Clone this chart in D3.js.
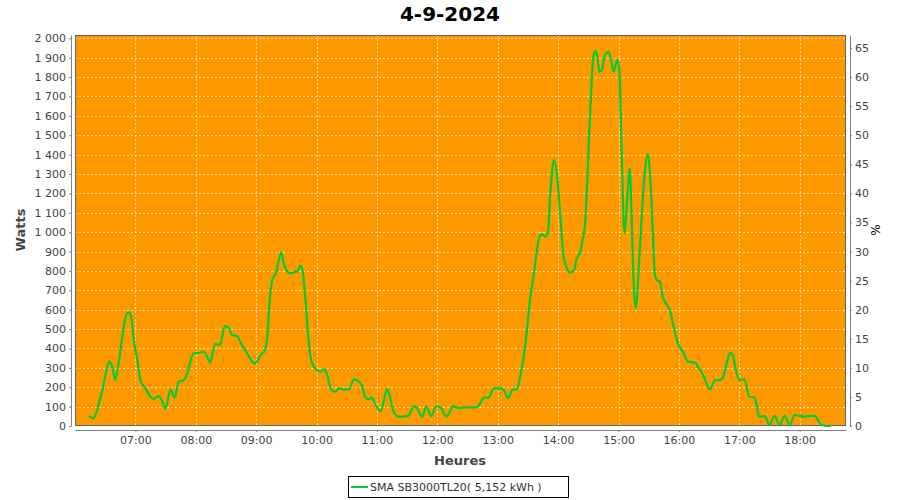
<!DOCTYPE html>
<html><head><meta charset="utf-8">
<script src="https://cdn.jsdelivr.net/npm/d3@7"></script>
<style>body{margin:0;background:#fff}svg{display:block}text{font-family:"DejaVu Sans",sans-serif}</style>
</head><body>
<svg id="c" width="900" height="500"></svg>
<script>
const title = "4-9-2024";
const seriesName = "SMA SB3000TL20( 5,152 kWh )";
const times = ["06:14","06:18","06:21","06:25","06:28","06:31","06:34","06:37","06:40","06:43","06:47","06:50","06:53","06:56","06:58","07:02","07:05","07:10","07:15","07:18","07:23","07:26","07:30","07:35","07:39","07:43","07:48","07:51","07:55","07:58","08:04","08:08","08:11","08:14","08:16","08:19","08:24","08:29","08:33","08:36","08:41","08:45","08:49","08:54","08:58","09:02","09:05","09:08","09:11","09:14","09:16","09:20","09:22","09:25","09:27","09:31","09:34","09:39","09:41","09:44","09:46","09:49","09:52","09:55","10:00","10:04","10:08","10:10","10:15","10:19","10:22","10:27","10:32","10:37","10:40","10:45","10:48","10:52","10:55","10:59","11:04","11:07","11:10","11:12","11:16","11:21","11:26","11:31","11:37","11:40","11:45","11:49","11:54","11:59","12:04","12:09","12:16","12:21","12:27","12:34","12:39","12:43","12:46","12:51","12:56","13:04","13:07","13:10","13:15","13:19","13:22","13:25","13:29","13:32","13:35","13:39","13:41","13:44","13:47","13:50","13:52","13:55","13:56","13:59","14:02","14:05","14:08","14:12","14:16","14:18","14:22","14:24","14:27","14:29","14:31","14:33","14:35","14:37","14:39","14:41","14:44","14:46","14:50","14:53","14:55","14:59","15:01","15:03","15:06","15:08","15:11","15:13","15:15","15:17","15:20","15:23","15:26","15:29","15:31","15:34","15:36","15:38","15:41","15:44","15:48","15:51","15:54","15:59","16:04","16:09","16:16","16:19","16:24","16:31","16:36","16:41","16:44","16:47","16:51","16:54","16:57","17:00","17:05","17:10","17:15","17:20","17:25","17:30","17:35","17:40","17:45","17:50","17:55","18:00","18:05","18:10","18:15","18:18","18:22","18:27","18:31"];
const watts = [53,40,65,143,203,280,332,306,237,315,460,555,586,564,460,340,237,194,151,139,155,134,91,189,146,228,237,263,340,375,378,383,361,327,357,423,418,516,504,469,464,426,392,349,323,340,371,383,460,684,753,796,847,894,847,796,787,796,796,827,804,650,444,332,289,280,294,272,186,177,194,189,189,241,237,210,151,138,146,103,77,134,191,169,82,48,48,52,103,91,48,100,52,103,91,48,103,91,96,96,96,120,146,146,194,194,177,143,189,189,246,332,495,650,753,908,968,990,976,1002,1182,1355,1372,1286,1097,891,822,791,805,856,899,951,1062,1269,1526,1750,1905,1935,1905,1827,1845,1905,1930,1879,1827,1891,1819,1440,994,1114,1329,1079,736,607,805,1079,1303,1403,1320,1011,787,753,744,667,624,598,530,426,383,332,328,306,263,189,237,237,254,315,378,357,280,237,241,151,148,48,52,5,52,5,52,5,57,52,48,52,52,31,5,0,2];
const hourTicks = ["07:00","08:00","09:00","10:00","11:00","12:00","13:00","14:00","15:00","16:00","17:00","18:00"];
const wattTicks = d3.range(0, 2001, 100);
const pctTicks = d3.range(0, 66, 5);
const xDomain = ["06:00","18:46"];
const wattMax = 2017;
const ratedPower = 3000;

const parse = d3.timeParse("%H:%M");
const data = times.map((t,i)=>({t:parse(t), w:watts[i]}));

const svg = d3.select("#c");
const L=75, R=846, T=35, B=426;
const x = d3.scaleTime().domain(xDomain.map(parse)).range([L,R]);
const y = d3.scaleLinear().domain([0,wattMax]).range([B,T]);
const yp = d3.scaleLinear().domain([0,wattMax/ratedPower*100]).range([B,T]);

svg.append("rect").attr("x",L).attr("y",T).attr("width",R-L).attr("height",B-T).attr("fill","#ff9900");

const grid = svg.append("g").attr("stroke","#fff").attr("stroke-opacity",0.75).attr("stroke-width",0.8).attr("stroke-dasharray","2,2");
grid.selectAll("line.h").data(wattTicks).join("line").attr("x1",L).attr("x2",R).attr("y1",d=>Math.round(y(d))+0.5).attr("y2",d=>Math.round(y(d))+0.5);
grid.selectAll("line.v").data(hourTicks.map(parse)).join("line").attr("y1",T).attr("y2",B).attr("x1",d=>Math.round(x(d))+0.5).attr("x2",d=>Math.round(x(d))+0.5);

svg.append("rect").attr("x",L+0.5).attr("y",T+0.5).attr("width",R-L-1).attr("height",B-T-1).attr("fill","none").attr("stroke","#666").attr("stroke-width",1);

const line = d3.line().x(d=>x(d.t)).y(d=>y(d.w)).curve(d3.curveMonotoneX);
svg.append("path").datum(data).attr("d",line).attr("fill","none").attr("stroke","#00cc33").attr("stroke-width",2.2).attr("stroke-linejoin","round");

function styleAxis(g){
  g.select(".domain").attr("stroke","#808080");
  g.selectAll(".tick line").attr("stroke","#808080");
  g.selectAll(".tick text").attr("fill","#444").attr("font-size","11px").attr("font-family","DejaVu Sans, sans-serif");
}
const fmt = d=>d3.format(",")(d).replace(/,/g," ");
const ya = svg.append("g").attr("transform",`translate(${L-4},0)`).call(d3.axisLeft(y).tickValues(wattTicks).tickFormat(fmt).tickSizeInner(2).tickSizeOuter(0).tickPadding(3));
styleAxis(ya);
const yb = svg.append("g").attr("transform",`translate(${R+4},0)`).call(d3.axisRight(yp).tickValues(pctTicks).tickSizeInner(2).tickSizeOuter(0).tickPadding(3));
styleAxis(yb);
const xa = svg.append("g").attr("transform",`translate(0,${B+4})`).call(d3.axisBottom(x).tickValues(hourTicks.map(parse)).tickFormat(d3.timeFormat("%H:%M")).tickSizeInner(2).tickSizeOuter(0).tickPadding(4));
styleAxis(xa);

svg.append("text").attr("x",450).attr("y",21).attr("text-anchor","middle").attr("font-size","20px").attr("font-weight","bold").attr("fill","#000").text(title);
svg.append("text").attr("transform","translate(25,230) rotate(-90)").attr("text-anchor","middle").attr("font-size","13px").attr("font-weight","bold").attr("fill","#444").text("Watts");
svg.append("text").attr("x",460).attr("y",465).attr("text-anchor","middle").attr("font-size","13px").attr("font-weight","bold").attr("fill","#444").text("Heures");
svg.append("text").attr("transform","translate(880,230) rotate(-90)").attr("text-anchor","middle").attr("font-size","12px").attr("fill","#000").text("%");

const lg = svg.append("g");
lg.append("rect").attr("x",348.5).attr("y",476.5).attr("width",220).attr("height",21).attr("fill","#fff").attr("stroke","#000");
lg.append("line").attr("x1",351).attr("x2",368).attr("y1",487).attr("y2",487).attr("stroke","#00cc33").attr("stroke-width",2);
lg.append("text").attr("x",370).attr("y",491).attr("font-size","11px").attr("fill","#333").text(seriesName);
</script>
</body></html>
